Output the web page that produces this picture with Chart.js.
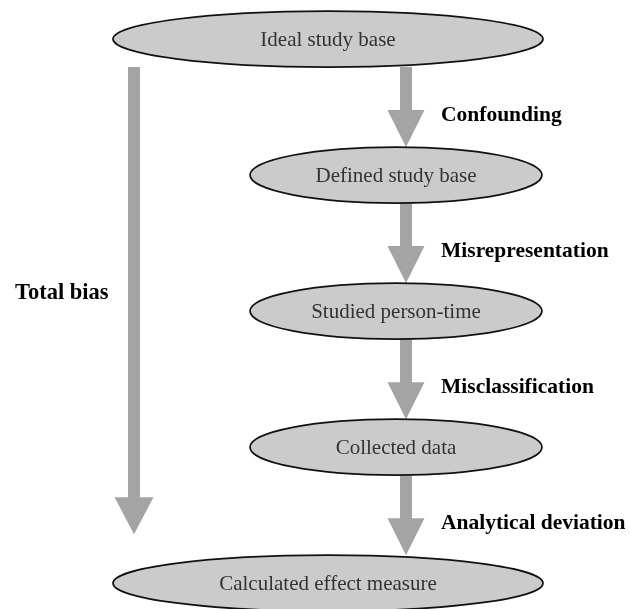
<!DOCTYPE html>
<html>
<head>
<meta charset="utf-8">
<script src="https://cdn.jsdelivr.net/npm/chart.js@4/dist/chart.umd.min.js"></script>
<style>
  body { margin: 0; background: #fff; }
  #wrap { position: relative; width: 630px; height: 609px; }
</style>
</head>
<body>
<div id="wrap"><canvas id="bias-chart"></canvas></div>
<script>
// Steps from the ideal study base down to the calculated measure
const nodeLabels = [
  'Ideal study base',
  'Defined study base',
  'Studied person-time',
  'Collected data',
  'Calculated effect measure'
];
const nodeLevels = [0, 1, 2, 3, 4];
const biasLabels = ['Confounding', 'Misrepresentation', 'Misclassification', 'Analytical deviation'];
const totalLabel = 'Total bias';

// layout (pixels)
const WIDE_CX = 328, NARROW_CX = 396, ARROW_X = 406, TOTAL_X = 134;
const WIDE_RX = 215, NARROW_RX = 146, NODE_RY = 28;
const ARROW_COLOR = '#a4a4a4';

function drawArrow(ctx, x, y0, y1, shaftW, headW, headH) {
  ctx.fillStyle = ARROW_COLOR;
  ctx.beginPath();
  ctx.moveTo(x - shaftW / 2, y0);
  ctx.lineTo(x + shaftW / 2, y0);
  ctx.lineTo(x + shaftW / 2, y1 - headH);
  ctx.lineTo(x + headW / 2, y1 - headH);
  ctx.lineTo(x, y1);
  ctx.lineTo(x - headW / 2, y1 - headH);
  ctx.lineTo(x - shaftW / 2, y1 - headH);
  ctx.closePath();
  ctx.fill();
}

const diagramPlugin = {
  id: 'diagram',
  afterDatasetsDraw(chart) {
    const ctx = chart.ctx;
    const y = chart.scales.y;
    const pts = chart.getDatasetMeta(0).data;
    const rx = i => (i === 0 || i === nodeLabels.length - 1) ? WIDE_RX : NARROW_RX;

    ctx.save();
    // step arrows + labels
    for (let i = 0; i < biasLabels.length; i++) {
      const top = pts[i].y + NODE_RY;
      const bottom = pts[i + 1].y - NODE_RY;
      drawArrow(ctx, ARROW_X, top, bottom, 12, 37, 37);
      ctx.fillStyle = '#000';
      ctx.font = 'bold 21.5px "Liberation Serif", "Times New Roman", serif';
      ctx.textAlign = 'left';
      ctx.textBaseline = 'middle';
      ctx.fillText(biasLabels[i], 441, y.getPixelForValue(nodeLevels[i] + 0.56));
    }

    // total bias arrow
    const first = pts[0].y + NODE_RY;
    const last = pts[pts.length - 1].y - NODE_RY - 21;
    drawArrow(ctx, TOTAL_X, first, last, 12, 39, 37);
    ctx.fillStyle = '#000';
    ctx.font = 'bold 22.5px "Liberation Serif", "Times New Roman", serif';
    ctx.textAlign = 'left';
    ctx.fillText(totalLabel, 15, y.getPixelForValue(1.87));

    // nodes
    pts.forEach((p, i) => {
      ctx.beginPath();
      ctx.ellipse(p.x, p.y, rx(i), NODE_RY, 0, 0, Math.PI * 2);
      ctx.fillStyle = '#cbcbcb';
      ctx.fill();
      ctx.lineWidth = 1.7;
      ctx.strokeStyle = '#111';
      ctx.stroke();
      ctx.fillStyle = '#333';
      ctx.font = '21px "Liberation Serif", "Times New Roman", serif';
      ctx.textAlign = 'center';
      ctx.textBaseline = 'middle';
      ctx.fillText(nodeLabels[i], p.x, p.y + 1);
    });
    ctx.restore();
  }
};

new Chart(document.getElementById('bias-chart'), {
  type: 'scatter',
  data: {
    datasets: [{
      label: 'Steps',
      data: nodeLevels.map((lv, i) => ({
        x: (i === 0 || i === nodeLevels.length - 1) ? WIDE_CX : NARROW_CX,
        y: lv
      })),
      pointRadius: 0,
      showLine: false
    }]
  },
  options: {
    responsive: true,
    maintainAspectRatio: false,
    animation: false,
    layout: { padding: 0 },
    plugins: {
      legend: { display: false },
      tooltip: { enabled: false }
    },
    scales: {
      x: { type: 'linear', min: 0, max: 630, display: false },
      y: { type: 'linear', min: -0.287, max: 4.19, reverse: true, display: false }
    }
  },
  plugins: [diagramPlugin]
});
</script>
</body>
</html>
